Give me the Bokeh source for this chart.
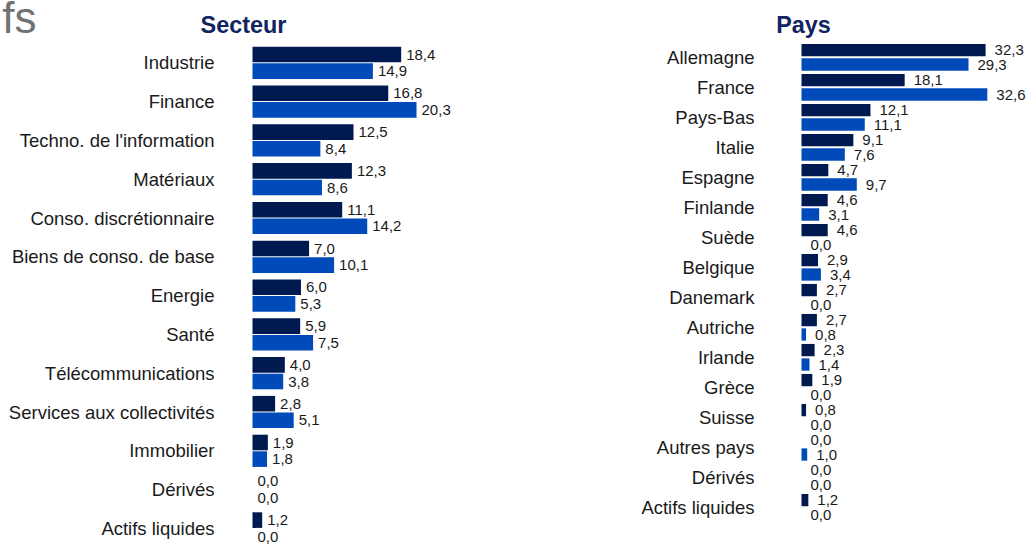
from bokeh.plotting import figure
from bokeh.layouts import row
from bokeh.models import ColumnDataSource, Range1d, Label
from bokeh.core.properties import value
from bokeh.transform import dodge
from bokeh.embed import file_html
from bokeh.resources import INLINE

# --- data -------------------------------------------------------------
secteur_categories = [
    "Industrie", "Finance", "Techno. de l'information", "Matériaux",
    "Conso. discrétionnaire", "Biens de conso. de base", "Energie", "Santé",
    "Télécommunications", "Services aux collectivités", "Immobilier",
    "Dérivés", "Actifs liquides",
]
secteur_fonds = [18.4, 16.8, 12.5, 12.3, 11.1, 7.0, 6.0, 5.9, 4.0, 2.8, 1.9, 0.0, 1.2]
secteur_indice = [14.9, 20.3, 8.4, 8.6, 14.2, 10.1, 5.3, 7.5, 3.8, 5.1, 1.8, 0.0, 0.0]

pays_categories = [
    "Allemagne", "France", "Pays-Bas", "Italie", "Espagne", "Finlande",
    "Suède", "Belgique", "Danemark", "Autriche", "Irlande", "Grèce",
    "Suisse", "Autres pays", "Dérivés", "Actifs liquides",
]
pays_fonds = [32.3, 18.1, 12.1, 9.1, 4.7, 4.6, 4.6, 2.9, 2.7, 2.7, 2.3, 1.9, 0.8, 0.0, 0.0, 1.2]
pays_indice = [29.3, 32.6, 11.1, 7.6, 9.7, 3.1, 0.0, 3.4, 0.0, 0.8, 1.4, 0.0, 0.0, 1.0, 0.0, 0.0]

# --- style ------------------------------------------------------------
DARK = "#001a50"
BLUE = "#004bb9"
TEXT = "#1a1a1a"
TITLE = "#0f2460"
FONT = "Liberation Sans"
H = 544


def fmt(v):
    return f"{v:.1f}".replace(".", ",")


def panel(title, cats, fonds, indice, width, bar_left, px_per_unit,
          first_row_px, row_px, offset_px, bar_px, label_gap, cat_gap,
          title_x, title_y):
    n = len(cats)
    src = ColumnDataSource(dict(
        y=list(range(n)), cat=cats, fonds=fonds, indice=indice,
        fonds_txt=[fmt(v) for v in fonds],
        indice_txt=[fmt(v) for v in indice],
        zero=[0] * n,
    ))
    # the frame fills the whole canvas; x = 0 sits at the bars' base line
    x0 = -bar_left / px_per_unit
    x1 = (width - bar_left) / px_per_unit
    # y runs downward: row 0 at the top
    y_top = -first_row_px / row_px
    y_bot = (H - first_row_px) / row_px
    p = figure(
        width=width, height=H, output_backend="svg", toolbar_location=None,
        x_range=Range1d(x0, x1), y_range=Range1d(y_bot, y_top),
        x_axis_location=None, y_axis_location=None,
        min_border=0, outline_line_color=None,
        background_fill_color="white", border_fill_color="white",
    )
    p.grid.visible = False

    off = offset_px / row_px
    h = bar_px / row_px
    p.hbar(y=dodge("y", -off), right="fonds", left=0, height=h,
           fill_color=DARK, line_color=None, source=src)
    p.hbar(y=dodge("y", off), right="indice", left=0, height=h,
           fill_color=BLUE, line_color=None, source=src)
    p.text(x="fonds", y=dodge("y", -off), text="fonds_txt", source=src,
           x_offset=label_gap, text_align="left", text_baseline="middle",
           text_font=value(FONT), text_font_size="15px", text_color=TEXT)
    p.text(x="indice", y=dodge("y", off), text="indice_txt", source=src,
           x_offset=label_gap, text_align="left", text_baseline="middle",
           text_font=value(FONT), text_font_size="15px", text_color=TEXT)

    # category names, right-aligned in front of the bars
    p.text(x="zero", y="y", text="cat", source=src,
           x_offset=-cat_gap, text_align="right", text_baseline="middle",
           text_font=value(FONT), text_font_size="18.5px", text_color=TEXT)

    # panel heading above the first row
    p.add_layout(Label(
        x=(title_x - bar_left) / px_per_unit,
        y=(title_y - first_row_px) / row_px,
        text=title, text_align="center", text_baseline="middle",
        text_font=FONT, text_font_style="bold", text_font_size="23.4px",
        text_color=TITLE,
    ))
    return p


left = panel("Secteur", secteur_categories, secteur_fonds, secteur_indice,
             width=512, bar_left=252, px_per_unit=8.08,
             first_row_px=62.3, row_px=38.8, offset_px=8.3, bar_px=15.6,
             label_gap=5, cat_gap=38, title_x=243, title_y=24)

# tail of the page heading, at the top-left corner
left.add_layout(Label(
    x=(36 - 252) / 8.08, y=(17 - 62.3) / 38.8,
    text="fs", text_align="right", text_baseline="middle",
    text_font=FONT, text_font_size="44px", text_color="#707274",
))

right = panel("Pays", pays_categories, pays_fonds, pays_indice,
              width=514, bar_left=289, px_per_unit=5.7,
              first_row_px=56.8, row_px=30.0, offset_px=7.2, bar_px=12.3,
              label_gap=9, cat_gap=47, title_x=803 - 512, title_y=24)

layout = row(left, right, spacing=0)

with open("out.html", "w") as f:
    f.write(file_html(layout, INLINE))
